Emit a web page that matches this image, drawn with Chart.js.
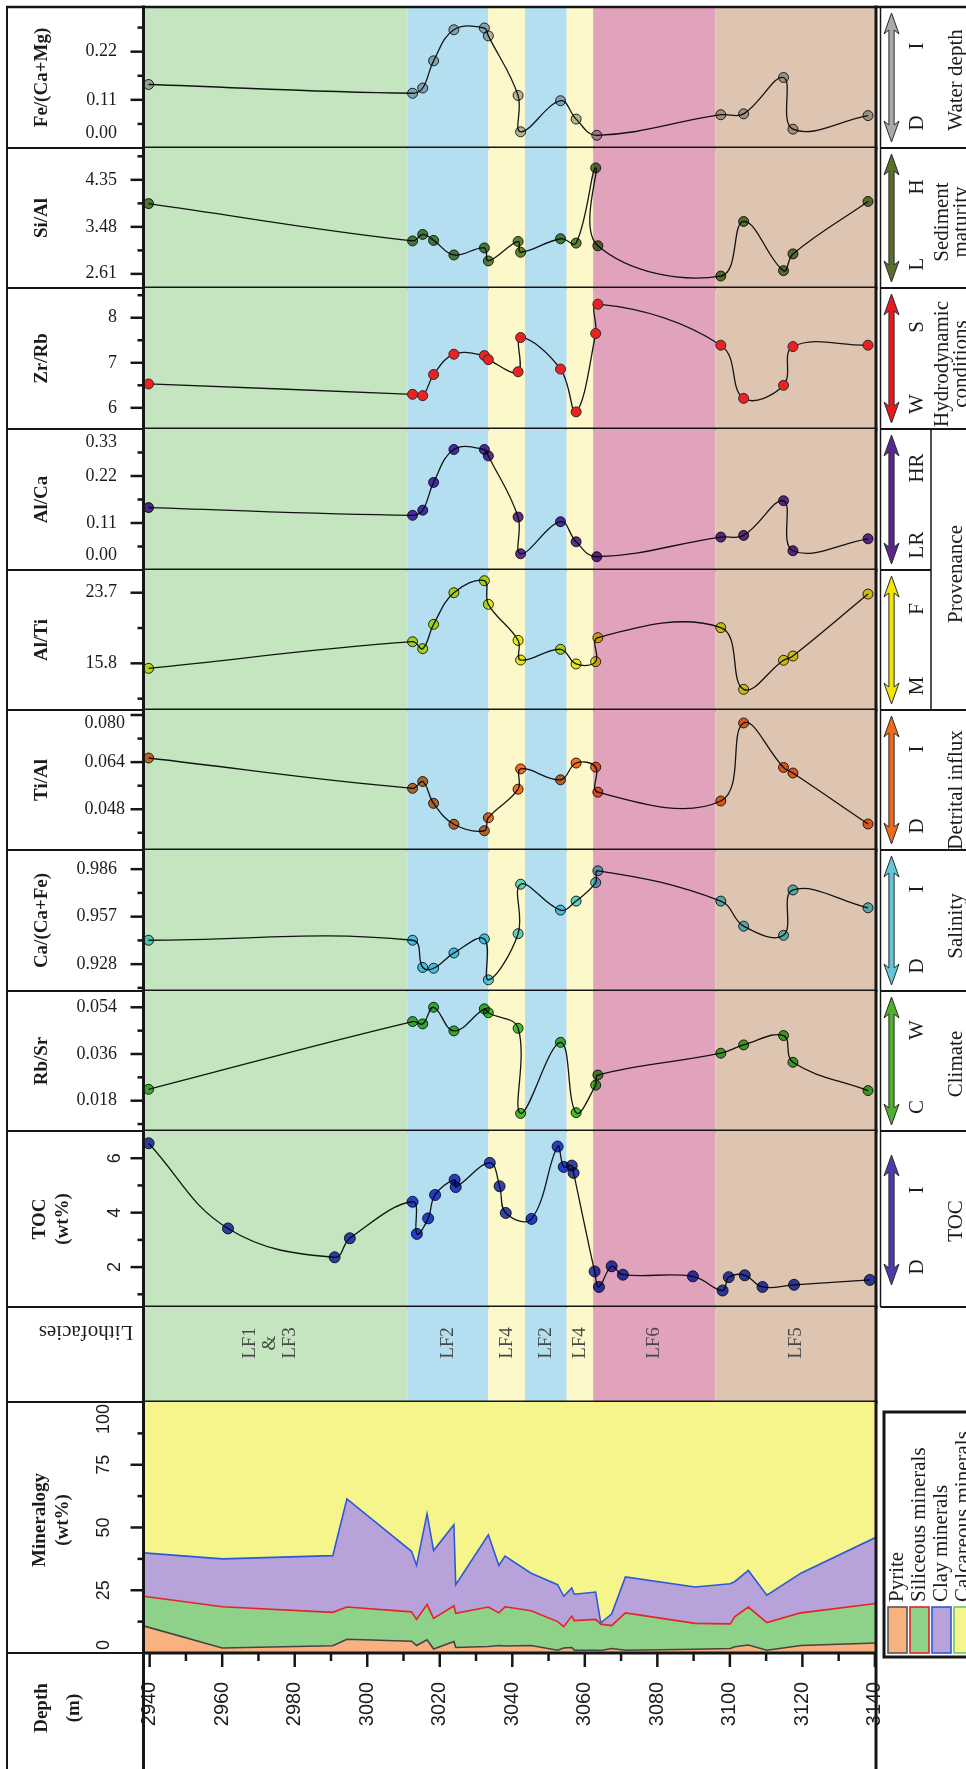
<!DOCTYPE html>
<html>
<head>
<meta charset="utf-8">
<title>Geochemical profile</title>
<script src="https://cdn.jsdelivr.net/npm/chart.js@4.4.1/dist/chart.umd.min.js"></script>
<style>
  html, body { margin: 0; padding: 0; background: #ffffff; }
  #fig { position: relative; width: 966px; height: 1769px; overflow: hidden; background: #ffffff; }
  #fig canvas { position: absolute; left: 0; }
</style>
</head>
<body>
<div id="fig"></div>
<script>
// ---------------- DATA ----------------
const DEPTH_MIN = 2938.3, DEPTH_MAX = 3140.3;
const depthTicks = [2940, 2960, 2980, 3000, 3020, 3040, 3060, 3080, 3100, 3120, 3140];

// geochemical samples (depth, m)
const geoDepth = [2939.7, 3012.5, 3015.3, 3018.3, 3023.9, 3032.3, 3033.4, 3041.6, 3042.3, 3053.3, 3057.6, 3063.0, 3063.6, 3097.5, 3103.8, 3114.8, 3117.4, 3138.1];
const siAl   = [3.91, 3.22, 3.34, 3.23, 2.96, 3.09, 2.85, 3.21, 3.01, 3.26, 3.18, 4.57, 3.13, 2.57, 3.58, 2.67, 2.98, 3.95];
const zrRb   = [6.53, 6.30, 6.27, 6.74, 7.19, 7.16, 7.07, 6.80, 7.56, 6.86, 5.91, 7.65, 8.30, 7.39, 6.21, 6.50, 7.36, 7.39];
const alTi   = [15.24, 18.22, 17.44, 20.16, 23.70, 25.04, 22.40, 18.37, 16.17, 17.37, 15.73, 15.99, 18.67, 19.79, 12.89, 16.14, 16.62, 23.55];
const tiAl   = [0.0654, 0.0551, 0.0574, 0.0500, 0.0429, 0.0407, 0.0451, 0.0548, 0.0617, 0.0580, 0.0637, 0.0623, 0.0538, 0.0508, 0.0773, 0.0622, 0.0603, 0.0430];
const caCaFe = [0.9426, 0.9426, 0.9260, 0.9255, 0.9348, 0.9434, 0.9184, 0.9466, 0.9768, 0.9610, 0.9665, 0.9778, 0.9850, 0.9665, 0.9512, 0.9456, 0.9733, 0.9624];
const rbSr   = [0.0224, 0.0485, 0.0476, 0.0540, 0.0449, 0.0534, 0.0519, 0.0459, 0.0131, 0.0405, 0.0134, 0.0240, 0.0279, 0.0363, 0.0395, 0.0431, 0.0328, 0.0219];
// Fe/(Ca+Mg) and Al/Ca show a single point near 3063 m
const geoDepthB = [2939.7, 3012.5, 3015.3, 3018.3, 3023.9, 3032.3, 3033.4, 3041.6, 3042.3, 3053.3, 3057.6, 3063.3, 3097.5, 3103.8, 3114.8, 3117.4, 3138.1];
const feCaMg = [0.145, 0.125, 0.137, 0.199, 0.270, 0.274, 0.256, 0.120, 0.037, 0.108, 0.066, 0.029, 0.076, 0.078, 0.161, 0.043, 0.074];
const alCa   = [0.146, 0.128, 0.140, 0.205, 0.282, 0.282, 0.267, 0.124, 0.038, 0.113, 0.066, 0.031, 0.077, 0.081, 0.162, 0.045, 0.073];

// TOC samples
const tocDepth = [2939.7, 2961.6, 2991.0, 2995.2, 3012.5, 3013.7, 3016.8, 3018.7, 3024.1, 3024.4, 3033.8, 3036.5, 3038.2, 3045.3, 3052.5, 3054.2, 3056.4, 3056.9, 3062.7, 3063.9, 3067.4, 3070.5, 3089.8, 3098.0, 3099.7, 3104.1, 3109.0, 3117.7, 3138.6];
const toc      = [6.55, 3.42, 2.36, 3.06, 4.40, 3.22, 3.79, 4.65, 5.21, 4.94, 5.83, 4.97, 3.99, 3.77, 6.43, 5.68, 5.73, 5.46, 1.84, 1.27, 2.03, 1.72, 1.66, 1.14, 1.63, 1.70, 1.27, 1.35, 1.53];

// mineralogy (wt%)
const mineralNames = ['Pyrite', 'Siliceous minerals', 'Clay minerals', 'Calcareous minerals'];
const mineralDepth = [2938.3, 2960.0, 2990.5, 2994.4, 3012.2, 3013.6, 3016.5, 3018.3, 3023.9, 3024.4, 3033.4, 3036.3, 3038.0, 3045.2, 3052.5, 3054.2, 3056.4, 3057.1, 3063.0, 3064.4, 3067.4, 3071.2, 3090.4, 3100.1, 3101.4, 3105.1, 3110.2, 3119.6, 3140.3];
const pyrite     = [10.8, 2.0, 2.9, 5.5, 4.7, 3.0, 5.3, 1.6, 4.6, 2.2, 2.6, 3.0, 2.8, 3.0, 1.1, 2.0, 2.2, 1.1, 1.1, 1.0, 1.8, 1.1, 1.5, 1.8, 2.5, 3.2, 1.1, 3.0, 4.0];
const siliceous  = [11.8, 16.4, 13.3, 12.8, 11.7, 10.4, 14.0, 12.2, 14.2, 13.6, 15.7, 13.0, 15.6, 13.8, 11.4, 8.5, 12.5, 11.8, 12.3, 10.5, 9.1, 14.9, 10.3, 9.8, 12.0, 15.1, 11.0, 13.0, 15.7];
const clay       = [17.3, 19.1, 22.6, 43.1, 24.1, 21.5, 36.2, 27.0, 32.3, 11.4, 28.8, 18.9, 20.2, 15.0, 14.7, 12.1, 11.2, 10.5, 10.9, 0.5, 4.6, 14.3, 14.5, 16.0, 14.0, 14.6, 10.9, 15.8, 26.4];
const calcareous = [60.1, 62.5, 61.2, 38.6, 59.5, 65.1, 44.5, 59.2, 48.9, 72.8, 52.9, 65.1, 61.4, 68.2, 72.8, 77.4, 74.1, 76.6, 75.7, 88.0, 84.5, 69.7, 73.7, 72.4, 71.5, 67.1, 77.0, 68.2, 53.9];

// lithofacies intervals
const lithoBounds = [2938.3, 3011.2, 3033.4, 3043.5, 3055.0, 3062.3, 3096.0, 3140.3];
const lithoNames = [['LF1', '&', 'LF3'], ['LF2'], ['LF4'], ['LF2'], ['LF4'], ['LF6'], ['LF5']];

// axis tick labels
const feTicks = ['0.22', '0.11', '0.00'];
const siAlTicks = ['4.35', '3.48', '2.61'];
const zrRbTicks = ['8', '7', '6'];
const alCaTicks = ['0.33', '0.22', '0.11', '0.00'];
const alTiTicks = ['23.7', '15.8'];
const tiAlTicks = ['0.080', '0.064', '0.048'];
const caTicks = ['0.986', '0.957', '0.928'];
const rbSrTicks = ['0.054', '0.036', '0.018'];
const tocTicks = ['6', '4', '2'];
const mineralTicks = ['100', '75', '50', '25', '0'];

// ---------------- STYLE / LAYOUT ----------------
const bandColors = ['#c5e5c0', '#b3dff1', '#fdf8c9', '#b3dff1', '#fdf8c9', '#e1a3bb', '#dec5b2'];
const mineralFill = ['#f7b280', '#8ed28a', '#b8a2da', '#f6f58c'];
const mineralLine = ['#444444', '#e8202a', '#2a5ad8', 'rgba(0,0,0,0)'];
const legendBorder = ['#555555', '#e8202a', '#2a5ad8', '#6cc46c'];

const INK = '#161616';
const SERIF = '"Liberation Serif", "Times New Roman", Times, serif';
const SANS = '"Liberation Sans", Arial, sans-serif';
const TICK_FONT = '18px ' + SERIF;
const ROT_TICK_FONT = '18px ' + SANS;
const HEAD_FONT = 'bold 19px ' + SERIF;
const SIDE_FONT = '21px ' + SERIF;
const FIG_W = 966, FIG_H = 1769;
const OUT_L = 7, PLOT_L = 143.5, PLOT_R = 876, COL_L = 880.5, PROV_X = 931;
const M = 50;
const ROT = -Math.PI / 2;

const fig = document.getElementById('fig');

function txt(ctx, s, x, y, o) {
  o = o || {};
  ctx.save();
  ctx.font = o.font || TICK_FONT;
  ctx.fillStyle = o.color || '#1c1c1c';
  ctx.textAlign = o.align || 'center';
  ctx.textBaseline = o.baseline || 'middle';
  ctx.translate(x, y);
  if (o.rot) ctx.rotate(o.rot);
  ctx.fillText(s, 0, 0);
  ctx.restore();
}
function seg(ctx, x0, y0, x1, y1, w, c) {
  ctx.save();
  ctx.strokeStyle = c || INK;
  ctx.lineWidth = w;
  ctx.beginPath(); ctx.moveTo(x0, y0); ctx.lineTo(x1, y1); ctx.stroke();
  ctx.restore();
}
function arrow(ctx, x, y0, y1, color) {
  const hw = 7.5, sw = 2.6, hl = 21;
  ctx.save();
  ctx.beginPath();
  ctx.moveTo(x, y0);
  ctx.lineTo(x + hw, y0 + hl);
  ctx.lineTo(x + sw, y0 + hl - 4);
  ctx.lineTo(x + sw, y1 - hl + 4);
  ctx.lineTo(x + hw, y1 - hl);
  ctx.lineTo(x, y1);
  ctx.lineTo(x - hw, y1 - hl);
  ctx.lineTo(x - sw, y1 - hl + 4);
  ctx.lineTo(x - sw, y0 + hl - 4);
  ctx.lineTo(x - hw, y0 + hl);
  ctx.closePath();
  ctx.fillStyle = color; ctx.fill();
  ctx.lineWidth = 1; ctx.strokeStyle = '#2a2a2a'; ctx.stroke();
  ctx.restore();
}

function drawDecor(chart) {
  const s = chart.canvas.__spec, ctx = chart.ctx, a = chart.chartArea;
  const Y = v => v - s.canvasTop;
  const t = a.top, b = a.bottom;
  const yS = chart.scales.y, xS = chart.scales.x;
  const vEnd = s.toEnd ? Y(FIG_H) : b + 1.5;

  // frame lines
  if (s.first) seg(ctx, OUT_L - 1, t, FIG_W, t, 2.5);
  seg(ctx, OUT_L, t - 1, OUT_L, vEnd, 2);
  seg(ctx, PLOT_L, t - 1.5, PLOT_L, vEnd, 3);
  seg(ctx, PLOT_R, t - 1.5, PLOT_R, vEnd, 3);
  seg(ctx, OUT_L - 1, b, PLOT_L, b, 2);
  seg(ctx, PLOT_L, b, PLOT_R, b, 3);
  if (s.right) {
    seg(ctx, COL_L, t, COL_L, b, 1.5);
    seg(ctx, COL_L, b, s.rightBottom, b, 2);
  }
  if (s.prov) seg(ctx, PROV_X, t, PROV_X, b, 1.5);

  // value axis ticks
  if (s.ticks) {
    const base = s.minor[0], step = s.minor[1];
    const lo = s.range[0], hi = s.range[1];
    const majors = s.ticks.map(Number);
    const k0 = Math.ceil((lo - base) / step - 1e-6), k1 = Math.floor((hi - base) / step + 1e-6);
    for (let k = k0; k <= k1; k++) {
      const v = base + k * step;
      const py = yS.getPixelForValue(v);
      if (py < t + 2 || py > b - 2) continue;
      const major = majors.some(m => Math.abs(m - v) < step * 0.02);
      seg(ctx, PLOT_L - (major ? 13 : 6), py, PLOT_L, py, 2.5);
    }
    s.ticks.forEach(lbl => {
      let py = yS.getPixelForValue(parseFloat(lbl));
      if (s.rotLabels) {
        ctx.save(); ctx.font = ROT_TICK_FONT;
        const half = ctx.measureText(lbl).width / 2;
        ctx.restore();
        py = Math.min(Math.max(py, t + half + 2), b - half - 3);
        txt(ctx, lbl, s.labelX, py, { rot: ROT, font: ROT_TICK_FONT });
      } else {
        py = Math.min(Math.max(py, t + 13), b - 15);
        txt(ctx, lbl, s.labelX || 117, py, { align: 'right' });
      }
    });
  }

  // header
  if (s.name) {
    const xs = s.name.length === 1 ? [42] : [40, 63];
    const cy = s.nameY ? Y(s.nameY) : (t + b) / 2;
    s.name.forEach((line, i) => txt(ctx, line, xs[i], cy, { rot: ROT, font: HEAD_FONT }));
  }

  // right-hand interpretation column
  if (s.ends) {
    const ay0 = s.arrowSpan ? Y(s.arrowSpan[0]) : t + 6;
    const ay1 = s.arrowSpan ? Y(s.arrowSpan[1]) : b - 6;
    arrow(ctx, 891.5, ay0, ay1, s.arrow);
    const ey = s.endYs ? s.endYs.map(Y) : [t + 39, t + 116];
    txt(ctx, s.ends[0], 917, ey[0], { rot: ROT, font: SIDE_FONT });
    txt(ctx, s.ends[1], 917, ey[1], { rot: ROT, font: SIDE_FONT });
  }
  if (s.interp) {
    const xs = s.interp.length === 1 ? [956] : [942, 961];
    s.interp.forEach((line, i) => txt(ctx, line, xs[i], Y(s.interpY), { rot: ROT, font: SIDE_FONT }));
  }

  // lithofacies labels
  if (s.litho) {
    for (let i = 0; i < lithoNames.length; i++) {
      const x0 = xS.getPixelForValue(lithoBounds[i]), x1 = xS.getPixelForValue(lithoBounds[i + 1]);
      const names = lithoNames[i];
      const cx = (x0 + x1) / 2 - (names.length > 1 ? 6 : 0);
      names.forEach((nm, j) => {
        const off = (j - (names.length - 1) / 2) * 20;
        txt(ctx, nm, cx + off, Y(1343), { rot: ROT, font: '19px ' + SERIF, color: '#474747' });
      });
    }
    txt(ctx, 'Lithofacies', 86, Y(1332), { rot: Math.PI, font: '21px ' + SERIF });
  }

  // depth axis + legend (mineralogy chart)
  if (s.mineral) {
    const ay = b;
    for (let i = 0; i < depthTicks.length; i++) {
      const px = xS.getPixelForValue(depthTicks[i]);
      seg(ctx, px, ay, px, ay + 14, 2.5);
      if (i < depthTicks.length - 1) {
        const pm = xS.getPixelForValue((depthTicks[i] + depthTicks[i + 1]) / 2);
        seg(ctx, pm, ay, pm, ay + 8, 2.5);
      }
      txt(ctx, String(depthTicks[i]), px, Y(1704), { rot: ROT, font: '20px ' + SANS });
    }
    txt(ctx, 'Depth', 42, Y(1708), { rot: ROT, font: HEAD_FONT });
    txt(ctx, '(m)', 74, Y(1708), { rot: ROT, font: HEAD_FONT });

    // legend box
    ctx.save();
    ctx.lineWidth = 3; ctx.strokeStyle = INK;
    ctx.strokeRect(884, Y(1412), 140, Y(1657) - Y(1412));
    ctx.restore();
    for (let i = 0; i < mineralNames.length; i++) {
      const sx = 888 + i * 22;
      ctx.save();
      ctx.fillStyle = mineralFill[i];
      ctx.fillRect(sx, Y(1607), 19, 46);
      ctx.lineWidth = 1.6; ctx.strokeStyle = legendBorder[i];
      ctx.strokeRect(sx, Y(1607), 19, 46);
      ctx.restore();
      txt(ctx, mineralNames[i], sx + 9, Y(1602), { rot: ROT, align: 'left', font: '21px ' + SERIF });
    }
  }
}

const decor = {
  id: 'decor',
  beforeDatasetsDraw(chart) {
    const s = chart.canvas.__spec;
    if (!s || !s.bands) return;
    const ctx = chart.ctx, a = chart.chartArea, x = chart.scales.x;
    ctx.save();
    for (let i = 0; i < lithoNames.length; i++) {
      const x0 = x.getPixelForValue(lithoBounds[i]), x1 = x.getPixelForValue(lithoBounds[i + 1]);
      ctx.fillStyle = bandColors[i];
      ctx.fillRect(x0, a.top, x1 - x0, a.bottom - a.top);
    }
    ctx.restore();
  },
  beforeDatasetDraw(chart) {
    const s = chart.canvas.__spec;
    if (s && s.multiply) { chart.ctx.save(); chart.ctx.globalCompositeOperation = 'multiply'; }
  },
  afterDatasetDraw(chart) {
    const s = chart.canvas.__spec;
    if (s && s.multiply) chart.ctx.restore();
  },
  afterDraw(chart) {
    if (chart.canvas.__spec) drawDecor(chart);
  }
};
Chart.register(decor);

function baseOptions(range, padTop, padBottom, stacked) {
  return {
    responsive: false, animation: false, devicePixelRatio: 1, events: [],
    layout: { padding: { left: PLOT_L, right: FIG_W - PLOT_R, top: padTop, bottom: padBottom } },
    plugins: { legend: { display: false }, tooltip: { enabled: false } },
    scales: {
      x: { type: 'linear', display: false, min: DEPTH_MIN, max: DEPTH_MAX },
      y: { type: 'linear', display: false, min: range[0], max: range[1], stacked: !!stacked }
    }
  };
}

function makeChart(spec, config) {
  const c = document.createElement('canvas');
  c.width = FIG_W; c.height = spec.canvasH;
  c.style.top = spec.canvasTop + 'px';
  c.style.width = FIG_W + 'px'; c.style.height = spec.canvasH + 'px';
  c.__spec = spec;
  fig.appendChild(c);
  return new Chart(c, config);
}

// ---------------- RATIO PANELS ----------------
const ratioRows = [
  { top: 7, bottom: 148, name: ['Fe/(Ca+Mg)'], depths: geoDepthB, values: feCaMg, ticks: feTicks, range: [0, 0.322], minor: [0, 0.055],
    pt: 'rgb(182,186,186)', arrow: '#a9a9a9', ends: ['I', 'D'], interp: ['Water depth'], interpY: 80 },
  { top: 148, bottom: 288, name: ['Si/Al'], depths: geoDepth, values: siAl, ticks: siAlTicks, range: [2.349, 4.939], minor: [2.61, 0.435],
    pt: 'rgb(96,136,62)', arrow: '#5b6e2a', ends: ['H', 'L'], interp: ['Sediment', 'maturity'], interpY: 222 },
  { top: 288, bottom: 429, name: ['Zr/Rb'], depths: geoDepth, values: zrRb, ticks: zrRbTicks, range: [5.53, 8.66], minor: [6, 0.5],
    pt: 'rgb(236,34,34)', opaque: true, arrow: '#e8191c', ends: ['S', 'W'], interp: ['Hydrodynamic', 'conditions'], interpY: 364 },
  { top: 429, bottom: 570, name: ['Al/Ca'], depths: geoDepthB, values: alCa, ticks: alCaTicks, range: [0, 0.33], minor: [0, 0.055],
    pt: 'rgb(98,46,176)', arrow: '#5b2590', ends: ['HR', 'LR'], prov: true, provTop: true },
  { top: 570, bottom: 710, name: ['Al/Ti'], depths: geoDepth, values: alTi, ticks: alTiTicks, range: [10.58, 26.24], minor: [15.8, 3.95],
    pt: 'rgb(232,238,26)', arrow: '#f2e500', ends: ['F', 'M'], prov: true, interp: ['Provenance'], interpY: 574 },
  { top: 710, bottom: 850, name: ['Ti/Al'], depths: geoDepth, values: tiAl, ticks: tiAlTicks, range: [0.03416, 0.0817], minor: [0.048, 0.008], labelX: 125,
    pt: 'rgb(246,112,42)', arrow: '#f06a1e', ends: ['I', 'D'], interp: ['Detrital influx'], interpY: 790 },
  { top: 850, bottom: 991, name: ['Ca/(Ca+Fe)'], depths: geoDepth, values: caCaFe, ticks: caTicks, range: [0.9116, 0.9977], minor: [0.928, 0.0145],
    pt: 'rgb(100,214,234)', arrow: '#62c6d8', ends: ['I', 'D'], interp: ['Salinity'], interpY: 926 },
  { top: 991, bottom: 1131, name: ['Rb/Sr'], depths: geoDepth, values: rbSr, ticks: rbSrTicks, range: [0.00632, 0.06028], minor: [0.018, 0.009],
    pt: 'rgb(72,190,52)', arrow: '#4fb02e', ends: ['W', 'C'], interp: ['Climate'], interpY: 1064 }
];

function seriesDataset(depths, values, color, r) {
  return {
    data: depths.map((d, k) => ({ x: d, y: values[k] })),
    showLine: true, tension: 0.4, borderColor: INK, borderWidth: 1.3,
    pointRadius: r, pointBackgroundColor: color, pointBorderColor: '#2b2b2b', pointBorderWidth: 1,
    clip: false
  };
}

ratioRows.forEach((s, i) => {
  s.canvasTop = s.top - M; s.canvasH = (s.bottom - s.top) + 2 * M;
  s.bands = true; s.multiply = !s.opaque; s.first = i === 0; s.right = true;
  s.rightBottom = s.provTop ? PROV_X : FIG_W;
  makeChart(s, {
    type: 'scatter',
    data: { datasets: [seriesDataset(s.depths, s.values, s.pt, 5)] },
    options: baseOptions(s.range, M, M)
  });
});

// ---------------- TOC ----------------
const tocRow = { top: 1131, bottom: 1307, name: ['TOC', '(wt%)'], ticks: tocTicks, range: [0.534, 7.0], minor: [2, 1],
  rotLabels: true, labelX: 115, pt: 'rgb(50,70,214)', arrow: '#4a3cab', ends: ['I', 'D'],
  endYs: [1190, 1267], arrowSpan: [1155, 1285], interp: ['TOC'], interpY: 1221,
  bands: true, multiply: true, right: true, rightBottom: FIG_W };
tocRow.canvasTop = tocRow.top - M; tocRow.canvasH = (tocRow.bottom - tocRow.top) + 2 * M;
makeChart(tocRow, {
  type: 'scatter',
  data: { datasets: [seriesDataset(tocDepth, toc, tocRow.pt, 5.5)] },
  options: baseOptions(tocRow.range, M, M)
});

// ---------------- LITHOFACIES ----------------
const lithoRow = { top: 1307, bottom: 1402, bands: true, litho: true };
lithoRow.canvasTop = lithoRow.top - M; lithoRow.canvasH = (lithoRow.bottom - lithoRow.top) + 2 * M;
makeChart(lithoRow, {
  type: 'scatter',
  data: { datasets: [] },
  options: baseOptions([0, 1], M, M)
});

// ---------------- MINERALOGY + DEPTH ----------------
const minRow = { top: 1402, bottom: 1653, name: ['Mineralogy', '(wt%)'], nameY: 1520, ticks: mineralTicks, range: [0, 100],
  minor: [0, 12.5], rotLabels: true, labelX: 104, mineral: true, toEnd: true };
minRow.canvasTop = minRow.top - M; minRow.canvasH = FIG_H - minRow.canvasTop;
const mineralSeries = [pyrite, siliceous, clay, calcareous];
makeChart(minRow, {
  type: 'line',
  data: {
    datasets: mineralSeries.map((vals, i) => ({
      label: mineralNames[i],
      data: mineralDepth.map((d, k) => ({ x: d, y: vals[k] })),
      fill: i === 0 ? 'origin' : '-1',
      backgroundColor: mineralFill[i],
      borderColor: mineralLine[i],
      borderWidth: i === 3 ? 0 : 1.6,
      pointRadius: 0, tension: 0
    }))
  },
  options: baseOptions(minRow.range, M, FIG_H - minRow.bottom, true)
});
</script>
</body>
</html>
